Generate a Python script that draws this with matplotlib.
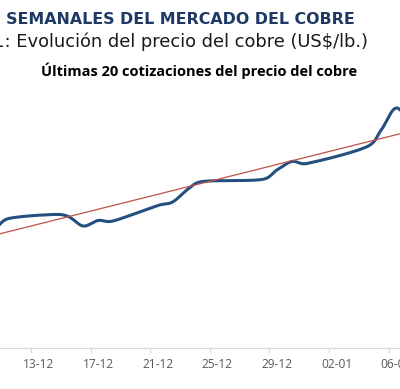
import numpy as np
import pandas as pd
import matplotlib
matplotlib.use("Agg")
import matplotlib.pyplot as plt
import matplotlib.dates as mdates

# =========================
# DATA
# =========================
fechas = ["2020-12-09", "2020-12-10", "2020-12-11", "2020-12-14", "2020-12-15",
          "2020-12-16", "2020-12-17", "2020-12-18", "2020-12-21", "2020-12-22",
          "2020-12-23", "2020-12-24", "2020-12-28", "2020-12-29", "2020-12-30",
          "2020-12-31", "2021-01-04", "2021-01-05", "2021-01-06", "2021-01-07"]
precios = [3.476, 3.450, 3.469, 3.477, 3.473,
           3.454, 3.465, 3.464, 3.495, 3.502,
           3.527, 3.543, 3.547, 3.566, 3.583,
           3.579, 3.612, 3.646, 3.690, 3.656]

tick_fechas = ["2020-12-13", "2020-12-17", "2020-12-21", "2020-12-25",
               "2020-12-29", "2021-01-02", "2021-01-06"]
tick_labels = ["13-12", "17-12", "21-12", "25-12", "29-12", "02-01", "06-01"]

TITULO_1 = "INDICADORES SEMANALES DEL MERCADO DEL COBRE"
TITULO_2 = "Gráfico N°1: Evolución del precio del cobre (US$/lb.)"
TITULO_3 = "Últimas 20 cotizaciones del precio del cobre"

# =========================
# STYLE
# =========================
AZUL = "#24507f"
ROJO = "#c0504d"
GRIS_EJE = "#d9d9d9"
GRIS_TXT = "#595959"
PX_DIA = 14.9       # pixels per day on the x axis
PX_UNIDAD = 500.0   # pixels per US$/lb on the y axis


def suavizar(x, y, sx, sy, n=30):
    # excel-like smoothed line: cubic bezier through every point
    P = np.column_stack([np.asarray(x) * sx, np.asarray(y) * sy])
    Pe = np.vstack([P[0], P, P[-1]])
    partes = []
    for i in range(len(P) - 1):
        p0, p1, p2, p3 = Pe[i], Pe[i + 1], Pe[i + 2], Pe[i + 3]
        half = np.linalg.norm(p2 - p1) / 2
        t1 = (p2 - p0) / 6
        t2 = (p3 - p1) / 6
        if np.linalg.norm(t1) > half:
            t1 = t1 * half / np.linalg.norm(t1)
        if np.linalg.norm(t2) > half:
            t2 = t2 * half / np.linalg.norm(t2)
        c1 = p1 + t1
        c2 = p2 - t2
        s = np.linspace(0, 1, n)[:, None]
        seg = (1 - s) ** 3 * p1 + 3 * (1 - s) ** 2 * s * c1 + 3 * (1 - s) * s ** 2 * c2 + s ** 3 * p2
        partes.append(seg if i == 0 else seg[1:])
    seg = np.vstack(partes)
    return seg[:, 0] / sx, seg[:, 1] / sy


x = mdates.date2num(pd.to_datetime(fechas))
y = np.array(precios)
xt = mdates.date2num(pd.to_datetime(tick_fechas))

# =========================
# PLOT
# =========================
fig = plt.figure(figsize=(4.0, 3.89), dpi=100)
ax = fig.add_axes([0, 0.1054, 1, 0.6684])

xs, ys = suavizar(x, y, PX_DIA, PX_UNIDAD)
ax.plot(xs, ys, color=AZUL, lw=2.2, solid_capstyle="round", zorder=3)

# linear trend
m, b = np.polyfit(x, y, 1)
xl = np.array([x[0], x[-1]])
ax.plot(xl, m * xl + b, color=ROJO, lw=0.9, zorder=4)

d0 = xt[0]
ax.set_xlim(d0 - 38.5 / PX_DIA, d0 + (400 - 38.5) / PX_DIA)
ax.set_ylim(3.21, 3.73)

for s in ["left", "right", "top"]:
    ax.spines[s].set_visible(False)
ax.spines["bottom"].set_color(GRIS_EJE)
ax.spines["bottom"].set_linewidth(0.8)
ax.set_yticks([])

ax.set_xticks(xt)
ax.set_xticklabels(tick_labels, fontfamily="Open Sans", fontsize=8.6, color=GRIS_TXT)
ax.tick_params(axis="x", which="major", length=0, pad=7.5)
ax.set_xticks(xt - 0.5, minor=True)
ax.tick_params(axis="x", which="minor", length=3.5, color=GRIS_EJE, width=0.8)

# =========================
# TITLES
# =========================
fig.text(355 / 400, 1 - 24 / 389, TITULO_1, ha="right", va="baseline",
         fontfamily="DejaVu Sans", fontweight="bold", fontsize=11.4, color="#1f3864")
fig.text(368 / 400, 1 - 47 / 389, TITULO_2, ha="right", va="baseline",
         fontfamily="DejaVu Sans", fontsize=12.9, color="#1a1a1a")
fig.text(199 / 400, 1 - 76 / 389, TITULO_3, ha="center", va="baseline",
         fontfamily="Open Sans", fontweight="bold", fontsize=10.5, color="black")

fig.savefig("out.png", dpi=100)
plt.close()
